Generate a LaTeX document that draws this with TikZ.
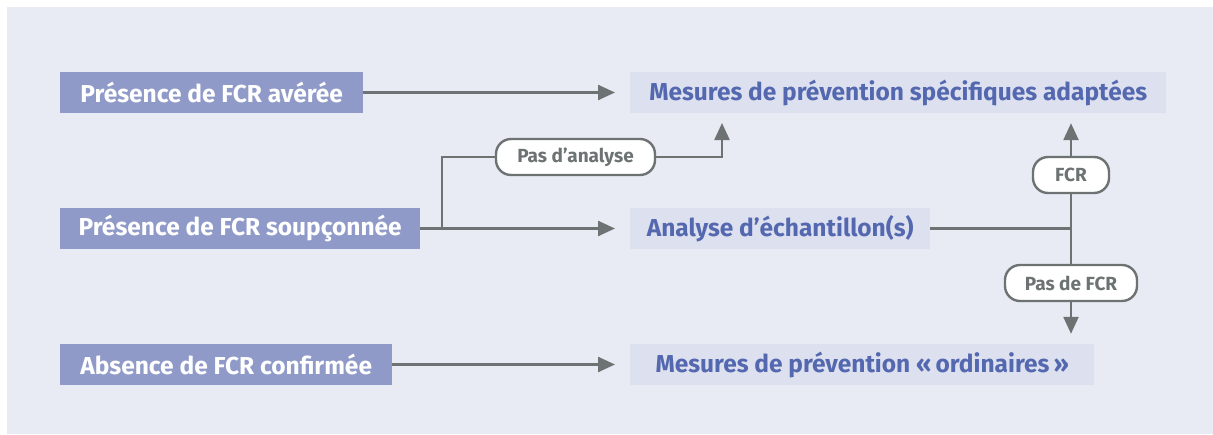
\documentclass[tikz,border=0pt]{standalone}
\usepackage{fontspec}
\setmainfont{Fira Sans}
\usetikzlibrary{arrows.meta}
\definecolor{panel}{HTML}{E8EBF4}
\definecolor{leftfill}{HTML}{8F9AC8}
\definecolor{rightfill}{HTML}{DDE0EF}
\definecolor{bluetext}{HTML}{5468B0}
\definecolor{linegray}{HTML}{6D7272}
\tikzset{
  srcbox/.style={fill=leftfill, text=white, font=\fontsize{24.5}{28}\selectfont\bfseries, minimum height=41pt, inner sep=0pt, anchor=west},
  dstbox/.style={fill=rightfill, text=bluetext, font=\fontsize{24.5}{28}\selectfont\bfseries, minimum height=41pt, inner sep=0pt, anchor=west},
  pill/.style={draw=linegray, line width=2.4pt, fill=white, rounded corners=15pt, text=linegray, font=\fontsize{19}{22}\selectfont\bfseries, minimum height=36pt, inner sep=0pt},
  conn/.style={draw=linegray, line width=2.4pt},
  arr/.style={conn, -{Triangle[length=17pt,width=15pt]}},
}
\begin{document}
\begin{tikzpicture}[x=1pt,y=-1pt]
\useasboundingbox (0,0) rectangle (1213,434);
\fill[panel] (7,7) rectangle (1213,434);
% left boxes
\node[srcbox, minimum width=303pt] (a) at (60,92.5) {Présence de FCR avérée};
\node[srcbox, minimum width=360pt] (s) at (60,228.5) {Présence de FCR soupçonnée};
\node[srcbox, minimum width=332pt] (c) at (60,364.5) {Absence de FCR confirmée};
% right boxes
\node[dstbox, minimum width=536pt] (m1) at (630,92.5) {Mesures de prévention spécifiques adaptées};
\node[dstbox, minimum width=300pt] (ae) at (630,228.5) {Analyse d’échantillon(s)};
\node[dstbox, minimum width=464pt] (m3) at (630,364.5) {Mesures de prévention «\,ordinaires\,»};
% pills
\node[pill, minimum width=159pt] (pa) at (575.5,157) {Pas d’analyse};
\node[pill, minimum width=76pt] (fcr) at (1071,175) {FCR};
\node[pill, minimum width=132pt] (pdf) at (1071,283) {Pas de FCR};
% coordinates
\coordinate (br) at (442,228.5);
\coordinate (t1) at (722,113);
\coordinate (j) at (1071,228.5);
% connectors
\draw[arr, shorten >=15pt] (a.east) -- (m1.west);
\draw[arr, shorten >=15pt] (s.east) -- (ae.west);
\draw[arr, shorten >=15pt] (c.east) -- (m3.west);
\draw[conn] (br) |- (pa.west);
\draw[arr, shorten >=10pt] (pa.east) -| (t1);
\draw[conn] (ae.east) -- (j);
\draw[conn] (j) -- (fcr.south);
\draw[arr, shorten >=10pt] (fcr.north) -- (fcr.north |- m1.south);
\draw[conn] (j) -- (pdf.north);
\draw[arr, shorten >=10pt] (pdf.south) -- (pdf.south |- m3.north);
\end{tikzpicture}
\end{document}
